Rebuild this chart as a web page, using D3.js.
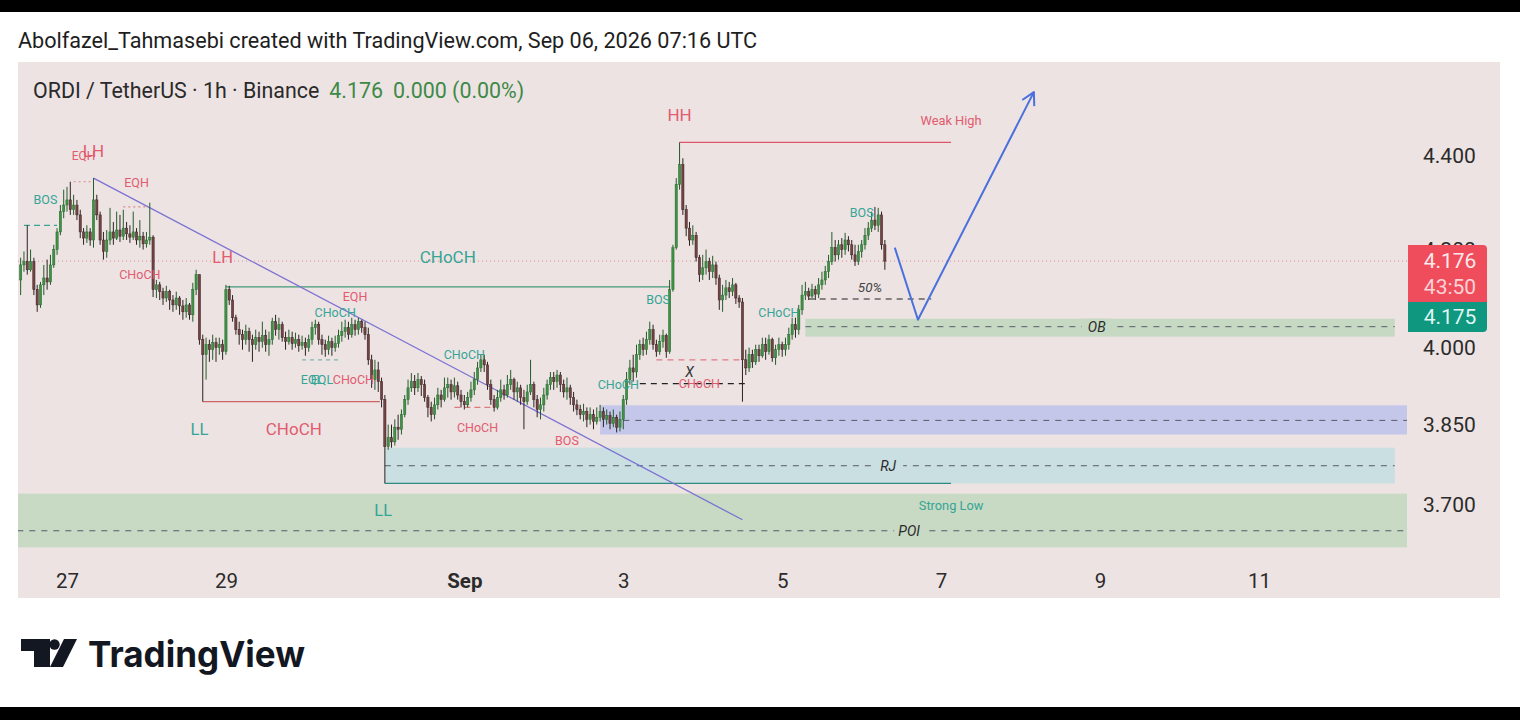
<!DOCTYPE html>
<html><head><meta charset="utf-8">
<script src="https://cdn.jsdelivr.net/npm/d3@7"></script>
<style>body{margin:0;background:#fff}svg{display:block;font-family:Roboto,"Noto Sans",sans-serif}</style>
</head><body><svg id="c" width="1520" height="720"></svg>
<script>
const T=(m,d,h=0,mi=0)=>new Date(Date.UTC(2026,m-1,d,h,mi));

// ---- data ----
const firstCandle = T(8,26,10);
const firstOpen = 4.137;
const closes = [
4.168,4.175,4.158,4.175,4.117,4.086,4.127,4.141,4.133,4.168,4.200,4.237,4.280,4.294,
4.305,4.284,4.294,4.273,4.237,4.224,4.237,4.220,4.305,4.273,4.220,4.196,4.220,4.237,4.224,4.241,4.228,4.245,4.233,4.226,4.237,4.220,4.228,4.212,
4.220,4.226,4.117,4.127,4.113,4.100,4.113,4.096,4.086,4.100,4.084,4.072,4.086,4.066,4.117,4.148,4.016,3.986,4.006,3.996,4.010,4.000,4.006,3.992,
4.117,4.096,4.060,4.036,4.026,4.016,4.032,4.016,4.006,4.020,4.012,4.024,4.006,4.016,4.052,4.036,4.046,4.020,4.012,4.020,4.008,4.016,4.004,4.010,
4.000,4.016,4.040,4.046,4.016,4.006,3.996,4.012,4.000,4.008,4.024,4.032,4.040,4.026,4.046,4.036,4.052,4.040,4.026,3.976,3.937,3.956,3.933,3.898,
3.808,3.825,3.817,3.845,3.841,3.869,3.898,3.921,3.933,3.921,3.937,3.927,3.902,3.883,3.869,3.888,3.907,3.898,3.921,3.927,3.913,3.925,3.907,3.894,
3.888,3.902,3.917,3.937,3.960,3.976,3.966,3.927,3.898,3.883,3.902,3.917,3.907,3.927,3.937,3.913,3.921,3.902,3.894,3.913,3.927,3.898,3.879,3.888,
3.907,3.927,3.941,3.933,3.946,3.927,3.913,3.921,3.902,3.888,3.879,3.869,3.875,3.860,3.869,3.856,3.864,3.875,3.860,3.867,3.852,3.864,3.845,3.860,
3.898,3.937,3.960,3.952,3.986,4.006,3.996,4.016,4.036,4.006,3.992,4.012,4.024,3.992,4.117,4.204,4.338,4.381,4.284,4.245,4.220,4.230,4.183,4.148,
4.162,4.175,4.154,4.168,4.141,4.096,4.106,4.121,4.113,4.127,4.100,4.092,3.976,3.960,3.986,3.972,3.996,3.984,4.006,3.992,4.016,3.980,3.996,4.006,
3.996,4.006,4.026,4.046,4.036,4.076,4.106,4.113,4.104,4.117,4.108,4.127,4.137,4.154,4.175,4.204,4.189,4.210,4.200,4.220,4.210,4.189,4.175,4.196,
4.210,4.230,4.245,4.262,4.251,4.273,4.210,4.176];
const highs = [
4.183,4.196,4.251,4.200,4.183,4.127,4.133,4.168,4.179,4.189,4.210,4.245,4.294,4.327,
4.333,4.344,4.316,4.305,4.284,4.245,4.251,4.245,4.352,4.316,4.280,4.237,4.241,4.288,4.258,4.280,4.273,4.284,4.258,4.251,4.280,4.245,4.262,4.237,
4.237,4.299,4.230,4.137,4.133,4.121,4.125,4.117,4.106,4.113,4.104,4.096,4.100,4.090,4.131,4.158,4.148,4.026,4.020,4.016,4.026,4.020,4.020,4.016,
4.127,4.125,4.106,4.066,4.052,4.036,4.046,4.040,4.026,4.036,4.032,4.052,4.036,4.032,4.060,4.066,4.060,4.052,4.032,4.036,4.032,4.030,4.026,4.024,
4.020,4.026,4.052,4.056,4.052,4.026,4.016,4.024,4.020,4.024,4.036,4.052,4.056,4.052,4.060,4.056,4.060,4.056,4.052,4.040,3.986,3.976,3.972,3.941,
3.907,3.850,3.850,3.860,3.869,3.879,3.907,3.937,3.950,3.946,3.950,3.944,3.937,3.907,3.894,3.902,3.921,3.917,3.941,3.941,3.937,3.941,3.933,3.917,
3.907,3.913,3.933,3.952,3.972,3.986,3.986,3.972,3.937,3.907,3.917,3.937,3.927,3.946,3.956,3.941,3.933,3.927,3.917,3.927,3.976,3.933,3.907,3.902,
3.921,3.937,3.952,3.952,3.956,3.952,3.937,3.941,3.927,3.913,3.898,3.888,3.890,3.883,3.883,3.879,3.883,3.888,3.883,3.879,3.875,3.879,3.869,3.875,
3.907,3.952,3.976,3.986,4.006,4.016,4.020,4.032,4.052,4.046,4.016,4.026,4.036,4.028,4.137,4.210,4.352,4.430,4.395,4.294,4.258,4.251,4.237,4.189,
4.189,4.200,4.183,4.187,4.175,4.148,4.127,4.137,4.133,4.141,4.131,4.106,4.100,3.996,4.000,3.996,4.006,4.006,4.020,4.020,4.026,4.020,4.006,4.020,
4.012,4.020,4.040,4.060,4.060,4.086,4.127,4.133,4.121,4.129,4.125,4.141,4.154,4.166,4.189,4.237,4.220,4.220,4.224,4.235,4.228,4.220,4.210,4.210,
4.220,4.245,4.258,4.280,4.290,4.288,4.280,4.220];
const lows = [
4.106,4.154,4.148,4.154,4.106,4.072,4.080,4.106,4.117,4.127,4.162,4.189,4.230,4.266,
4.280,4.273,4.273,4.262,4.224,4.210,4.214,4.208,4.204,4.262,4.210,4.179,4.183,4.210,4.210,4.220,4.216,4.220,4.220,4.214,4.220,4.210,4.204,4.200,
4.204,4.210,4.102,4.100,4.096,4.086,4.092,4.076,4.072,4.076,4.066,4.056,4.060,4.056,4.052,4.106,4.006,3.894,3.937,3.972,3.976,3.972,3.986,3.976,
3.986,4.086,4.052,4.026,4.006,3.996,4.006,3.992,3.972,3.996,3.992,4.000,3.992,3.984,4.006,4.024,4.016,4.012,3.996,4.006,3.996,4.000,3.992,3.996,
3.984,3.992,4.006,4.026,4.006,3.986,3.982,3.986,3.984,3.992,4.000,4.012,4.020,4.016,4.020,4.024,4.026,4.030,4.016,3.966,3.921,3.917,3.913,3.883,
3.739,3.802,3.806,3.810,3.821,3.831,3.864,3.888,3.913,3.907,3.913,3.905,3.894,3.864,3.856,3.860,3.879,3.883,3.894,3.902,3.898,3.902,3.898,3.883,
3.879,3.883,3.894,3.907,3.927,3.952,3.952,3.917,3.888,3.875,3.879,3.894,3.898,3.902,3.917,3.898,3.894,3.888,3.841,3.888,3.907,3.883,3.864,3.860,
3.875,3.898,3.917,3.917,3.921,3.913,3.902,3.898,3.888,3.875,3.868,3.860,3.856,3.845,3.850,3.841,3.850,3.856,3.845,3.850,3.841,3.845,3.835,3.837,
3.841,3.888,3.927,3.933,3.941,3.976,3.984,3.986,4.006,3.996,3.982,3.986,4.000,3.980,3.988,4.113,4.200,4.327,4.273,4.228,4.208,4.210,4.175,4.133,
4.137,4.148,4.137,4.141,4.127,4.076,4.072,4.096,4.100,4.104,4.088,4.080,3.894,3.946,3.952,3.960,3.966,3.972,3.980,3.976,3.986,3.972,3.966,3.984,
3.982,3.984,3.996,4.016,4.020,4.026,4.066,4.096,4.096,4.100,4.096,4.100,4.117,4.127,4.141,4.168,4.175,4.179,4.183,4.189,4.196,4.179,4.166,4.168,
4.183,4.200,4.220,4.237,4.241,4.237,4.200,4.158];

const xTickDates = [T(8,27),T(8,29),T(9,1),T(9,3),T(9,5),T(9,7),T(9,9),T(9,11)];
const xTickLabels = ["27","29","Sep","3","5","7","9","11"];
const yTicks = [4.4,4.2,4.0,3.85,3.7];
const lastPrice = 4.176, bidPrice = 4.175, countdown = "43:50";

const zones = [
 {name:"POI", from:T(8,26,9), to:T(9,12,21), top:3.720, bottom:3.622, mid:3.652, fill:"#c8d9c4", labelAt:T(9,6,14,20)},
 {name:"RJ",  from:T(8,31,0), to:T(9,12,17), top:3.806, bottom:3.739, mid:3.772, fill:"#c9dfe2", labelAt:T(9,6,8)},
 {name:"",    from:T(9,2,17), to:T(9,12,21), top:3.887, bottom:3.831, mid:3.858, fill:"#c4c6ea", midFrom:T(9,3,0)},
 {name:"OB",  from:T(9,5,7),  to:T(9,12,17), top:4.058, bottom:4.022, mid:4.042, fill:"#c6d9c3", labelAt:T(9,8,23)}
];
const solidLines = [
 {from:T(9,3,17), to:T(9,7,3), p:4.430, c:"#e0556a"},
 {from:T(8,28,17), to:T(8,30,22,30), p:3.894, c:"#cf6466"},
 {from:T(8,29,0), to:T(9,3,14), p:4.123, c:"#3f9a78"},
 {from:T(8,31,0), to:T(9,7,3), p:3.739, c:"#2f8a80"}
];
const dashLines = [
 {from:T(8,26,11), to:T(8,26,21), p:4.251, c:"#3aa394", d:"6,4"},
 {from:T(8,27,2), to:T(8,27,8), p:4.344, c:"#d88a8a", d:"2,3"},
 {from:T(8,27,17), to:T(8,28,0), p:4.290, c:"#d88a8a", d:"2,3"},
 {from:T(8,29,23), to:T(8,30,10), p:3.976, c:"#7fb8ae", d:"4,4"},
 {from:T(8,31,21), to:T(9,1,8), p:3.883, c:"#e07a7a", d:"6,4"},
 {from:T(9,3,10), to:T(9,4,13), p:3.976, c:"#e07a88", d:"6,5"},
 {from:T(9,3,5), to:T(9,4,13), p:3.929, c:"#222", d:"6,5"},
 {from:T(9,5,8), to:T(9,6,21), p:4.098, c:"#222", d:"6,5"}
];
const trendLine = [{t:T(8,27,8), p:4.352},{t:T(9,4,12), p:3.672}];
const projection = [{t:T(9,6,10), p:4.204},{t:T(9,6,17), p:4.056},{t:T(9,8,4), p:4.542}];
const RED="#e25b6e", TEAL="#35a596", DARK="#333";
const labels = [
 {t:T(8,27,5), p:4.400, s:"EQH", c:RED, f:12},
 {t:T(8,27,8), p:4.411, s:"LH", c:RED, f:17},
 {t:T(8,27,21), p:4.342, s:"EQH", c:RED, f:12.5},
 {t:T(8,26,17,30), p:4.305, s:"BOS", c:TEAL, f:12.5},
 {t:T(8,27,22), p:4.148, s:"CHoCH", c:RED, f:12.5},
 {t:T(8,28,23), p:4.185, s:"LH", c:RED, f:16.5},
 {t:T(8,30,9), p:4.070, s:"CHoCH", c:TEAL, f:12.5},
 {t:T(8,30,15), p:4.102, s:"EQH", c:RED, f:12.5},
 {t:T(8,30,2), p:3.937, s:"EQL", c:TEAL, f:12.5},
 {t:T(8,30,5), p:3.937, s:"EQL", c:TEAL, f:12.5},
 {t:T(8,30,14,30), p:3.937, s:"CHoCH", c:RED, f:12.5},
 {t:T(8,28,16), p:3.841, s:"LL", c:TEAL, f:16.5},
 {t:T(8,29,20,30), p:3.841, s:"CHoCH", c:RED, f:17},
 {t:T(8,30,23,30), p:3.689, s:"LL", c:TEAL, f:16.5},
 {t:T(8,31,19), p:4.185, s:"CHoCH", c:TEAL, f:17},
 {t:T(9,1,0), p:3.986, s:"CHoCH", c:TEAL, f:12.5},
 {t:T(9,1,4), p:3.845, s:"CHoCH", c:RED, f:12.5},
 {t:T(9,2,7), p:3.820, s:"BOS", c:RED, f:12.5},
 {t:T(9,2,22,30), p:3.927, s:"CHoCH", c:TEAL, f:12.5},
 {t:T(9,3,10,30), p:4.096, s:"BOS", c:TEAL, f:12.5},
 {t:T(9,3,17), p:4.490, s:"HH", c:RED, f:17},
 {t:T(9,3,20), p:3.952, s:"X", c:DARK, f:14, i:true},
 {t:T(9,3,23), p:3.929, s:"CHoCH", c:RED, f:12.5},
 {t:T(9,4,23), p:4.070, s:"CHoCH", c:TEAL, f:12.5},
 {t:T(9,6,0), p:4.278, s:"BOS", c:TEAL, f:12.5},
 {t:T(9,6,2,30), p:4.123, s:"50%", c:"#444", f:13.5, i:true},
 {t:T(9,7,3), p:4.479, s:"Weak High", c:RED, f:12.8},
 {t:T(9,7,3), p:3.698, s:"Strong Low", c:TEAL, f:12.8}
];

// ---- chart ----
const svg = d3.select("#c");
const pane = {x0:18, y0:62, x1:1500, y1:598, plotRight:1407};
const x = d3.scaleUtc().domain([T(8,27),T(9,11)]).range([67,1259]);
const y = d3.scaleLog().domain([3.7,4.4]).range([504.5,156]);

svg.append("rect").attr("width",1520).attr("height",720).attr("fill","#fff");
svg.append("rect").attr("width",1520).attr("height",12).attr("fill","#000");
svg.append("rect").attr("y",707).attr("width",1520).attr("height",13).attr("fill","#000");

svg.append("text").attr("x",18).attr("y",48).attr("font-size",21.6).attr("fill","#1e1e1e")
  .text("Abolfazel_Tahmasebi created with TradingView.com, Sep 06, 2026 07:16 UTC");

svg.append("rect").attr("x",pane.x0).attr("y",pane.y0).attr("width",pane.x1-pane.x0).attr("height",pane.y1-pane.y0).attr("fill","#ede3e3");

const title = svg.append("text").attr("x",33).attr("y",98).attr("font-size",21.4).attr("fill","#2a2a2a");
title.append("tspan").text("ORDI / TetherUS · 1h · Binance");
title.append("tspan").attr("dx",10).attr("fill","#3d8a47").text(d3.format(".3f")(lastPrice));
title.append("tspan").attr("dx",10).attr("fill","#3d8a47").text("0.000 (0.00%)");

svg.append("clipPath").attr("id","plot").append("rect")
  .attr("x",pane.x0).attr("y",pane.y0).attr("width",pane.plotRight-pane.x0).attr("height",pane.y1-pane.y0);
const g = svg.append("g").attr("clip-path","url(#plot)");

// zones
zones.forEach(z=>{
  g.append("rect").attr("x",x(z.from)).attr("y",y(z.top)).attr("width",x(z.to)-x(z.from))
    .attr("height",y(z.bottom)-y(z.top)).attr("fill",z.fill);
  g.append("line").attr("x1",x(z.midFrom||z.from)).attr("x2",x(z.to)).attr("y1",y(z.mid)).attr("y2",y(z.mid))
    .attr("stroke","#5a5a6a").attr("stroke-width",1).attr("stroke-dasharray","6,6");
  if(z.name){
    g.append("rect").attr("x",x(z.labelAt)-15).attr("y",y(z.mid)-8).attr("width",30).attr("height",16).attr("fill",z.fill);
    g.append("text").attr("x",x(z.labelAt)).attr("y",y(z.mid)).attr("dy","0.35em").attr("text-anchor","middle")
      .attr("font-size",14).attr("font-style","italic").attr("fill","#2a2a2a").text(z.name);
  }
});

// current price dotted line
g.append("line").attr("x1",pane.x0).attr("x2",pane.plotRight).attr("y1",y(lastPrice)).attr("y2",y(lastPrice))
  .attr("stroke","#d98c8c").attr("stroke-dasharray","1,3").attr("stroke-width",1);

solidLines.forEach(l=>g.append("line").attr("x1",x(l.from)).attr("x2",x(l.to)).attr("y1",y(l.p)).attr("y2",y(l.p))
  .attr("stroke",l.c).attr("stroke-width",1.2));
dashLines.forEach(l=>g.append("line").attr("x1",x(l.from)).attr("x2",x(l.to)).attr("y1",y(l.p)).attr("y2",y(l.p))
  .attr("stroke",l.c).attr("stroke-width",1.2).attr("stroke-dasharray",l.d));

// trend line
g.append("line").attr("x1",x(trendLine[0].t)).attr("y1",y(trendLine[0].p)).attr("x2",x(trendLine[1].t)).attr("y2",y(trendLine[1].p))
  .attr("stroke","#7c72d2").attr("stroke-width",1.3);

// candles
const candles = closes.map((c,i)=>({t:d3.utcHour.offset(firstCandle,i), o: i===0?firstOpen:closes[i-1], c, h:highs[i], l:lows[i]}));
const step = x(d3.utcHour.offset(firstCandle,1)) - x(firstCandle);
const bw = step*0.68;
const cg = g.append("g");
candles.forEach(d=>{
  const up = d.c>=d.o;
  const cx = x(d.t);
  const hi = Math.max(d.h,d.o,d.c), lo = Math.min(d.l,d.o,d.c);
  cg.append("line").attr("x1",cx).attr("x2",cx).attr("y1",y(hi)).attr("y2",y(lo))
    .attr("stroke", up?"#245c2a":"#2c2222").attr("stroke-width",1);
  const yt = y(Math.max(d.o,d.c)), yb = y(Math.min(d.o,d.c));
  cg.append("rect").attr("x",cx-bw/2).attr("y",yt).attr("width",bw).attr("height",Math.max(1,yb-yt))
    .attr("fill", up?"#3f9146":"#744242").attr("stroke", up?"#2b6b31":"#3a2626").attr("stroke-width",0.5);
});

// projection path
g.append("path").attr("d",d3.line().x(d=>x(d.t)).y(d=>y(d.p))(projection))
  .attr("fill","none").attr("stroke","#4a70de").attr("stroke-width",2).attr("stroke-linejoin","round");
{
  const a = projection[projection.length-2], b = projection[projection.length-1];
  const ax=x(a.t), ay=y(a.p), bx=x(b.t), by=y(b.p);
  const ang = Math.atan2(by-ay,bx-ax), L=14, w=0.5;
  const p1=[bx-L*Math.cos(ang-w), by-L*Math.sin(ang-w)], p2=[bx-L*Math.cos(ang+w), by-L*Math.sin(ang+w)];
  g.append("path").attr("d",`M${p1}L${bx},${by}L${p2}`).attr("fill","none").attr("stroke","#4a70de").attr("stroke-width",2).attr("stroke-linejoin","round");
}

// labels
labels.forEach(l=>{
  g.append("text").attr("x",x(l.t)).attr("y",y(l.p)).attr("dy","0.35em").attr("text-anchor","middle")
    .attr("font-size",l.f).attr("fill",l.c).attr("font-style",l.i?"italic":null).text(l.s);
});

// price axis
const ya = svg.append("g").attr("transform",`translate(${pane.plotRight},0)`)
  .call(d3.axisRight(y).tickValues(yTicks).tickFormat(d3.format(".3f")).tickSize(0).tickPadding(16));
ya.select(".domain").remove();
ya.selectAll("text").attr("font-size",21).attr("fill","#2b2b2b").attr("font-family","Roboto,sans-serif");

// last price boxes
const ly = y(lastPrice);
svg.append("path").attr("d",`M1408,${ly-16}H1483a4,4 0 0 1 4,4V${ly+41}H1408Z`).attr("fill","#f04d5c");
svg.append("text").attr("x",1450).attr("y",ly).attr("dy","0.35em").attr("text-anchor","middle").attr("font-size",21).attr("fill","#fde9eb").text(d3.format(".3f")(lastPrice));
svg.append("text").attr("x",1450).attr("y",ly+26).attr("dy","0.35em").attr("text-anchor","middle").attr("font-size",21).attr("fill","#fbd3d7").text(countdown);
svg.append("path").attr("d",`M1408,${ly+41}H1487V${ly+67}a4,4 0 0 1 -4,4H1408Z`).attr("fill","#0f9780");
svg.append("text").attr("x",1450).attr("y",ly+56).attr("dy","0.35em").attr("text-anchor","middle").attr("font-size",21).attr("fill","#dff6f1").text(d3.format(".3f")(bidPrice));

// time axis
const xa = svg.append("g").attr("transform","translate(0,562)")
  .call(d3.axisBottom(x).tickValues(xTickDates).tickFormat((d,i)=>xTickLabels[i]).tickSize(0).tickPadding(11));
xa.select(".domain").remove();
xa.selectAll("text").attr("font-size",20.5).attr("fill","#2b2b2b").attr("font-family","Roboto,sans-serif")
  .attr("font-weight",(d,i)=>xTickLabels[i]==="Sep"?700:400);

// TradingView logo
const lg = svg.append("g").attr("fill","#131722");
lg.append("path").attr("d","M21,639H50V667H34V651H21Z");
lg.append("circle").attr("cx",54.5).attr("cy",644.5).attr("r",5.2);
lg.append("path").attr("d","M64,639H77L63,667H50Z");
lg.append("text").attr("x",88).attr("y",667).attr("font-size",36).attr("font-weight",700)
  .attr("font-family","Inter,Roboto,sans-serif").attr("textLength",217).attr("lengthAdjust","spacingAndGlyphs").text("TradingView");
</script></body></html>
